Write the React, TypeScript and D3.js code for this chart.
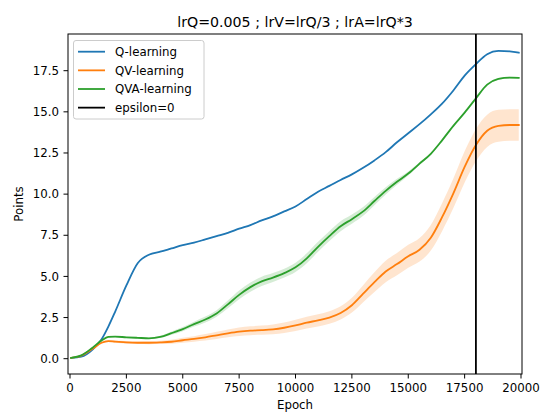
import React from "react";
import * as d3 from "d3";

// Training epochs at which the averaged scores were sampled
const epochs = [
  50, 500, 1000, 1400, 1700, 2000, 2500, 3000, 3500, 4000, 4500, 5000, 5500, 6000,
  6500, 7000, 7500, 8000, 8500, 9000, 9500, 10000, 10500, 11000, 11500, 12000,
  12500, 13000, 13500, 14000, 14500, 15000, 15500, 16000, 16500, 17000, 17500,
  18000, 18500, 19000, 19500, 19900,
];

// Mean points per method
const qMean = [
  0.05, 0.12, 0.55, 1.18, 1.95, 2.85, 4.45, 5.8, 6.32, 6.5, 6.7, 6.9, 7.05, 7.25,
  7.45, 7.65, 7.9, 8.12, 8.4, 8.65, 8.95, 9.25, 9.7, 10.15, 10.5, 10.86, 11.2,
  11.6, 12.05, 12.55, 13.15, 13.7, 14.25, 14.85, 15.5, 16.3, 17.2, 17.9, 18.5,
  18.7, 18.68, 18.6,
];
const qvMean = [
  0.05, 0.18, 0.6, 0.97, 1.07, 1.04, 0.99, 0.97, 0.97, 0.99, 1.03, 1.12, 1.2, 1.3,
  1.42, 1.54, 1.64, 1.7, 1.73, 1.78, 1.88, 2.02, 2.19, 2.33, 2.5, 2.78, 3.25, 3.95,
  4.65, 5.3, 5.75, 6.22, 6.62, 7.35, 8.6, 10.05, 11.65, 12.98, 13.85, 14.15, 14.2,
  14.2,
];
const qvaMean = [
  0.05, 0.2, 0.67, 1.1, 1.32, 1.34, 1.3, 1.27, 1.24, 1.32, 1.55, 1.8, 2.1, 2.38,
  2.75, 3.3, 3.88, 4.35, 4.7, 4.93, 5.2, 5.55, 6.1, 6.8, 7.45, 8.05, 8.48, 8.95,
  9.58, 10.2, 10.75, 11.25, 11.85, 12.45, 13.27, 14.15, 14.95, 15.82, 16.65, 17.0,
  17.08, 17.07,
];

// Spread around each mean (shaded band = mean ± spread)
const qSpread = [
  0.02, 0.02, 0.02, 0.03, 0.03, 0.03, 0.03, 0.03, 0.03, 0.03, 0.03, 0.03, 0.03, 0.03,
  0.03, 0.03, 0.03, 0.03, 0.03, 0.03, 0.03, 0.03, 0.03, 0.03, 0.03, 0.03, 0.03, 0.03,
  0.03, 0.03, 0.03, 0.03, 0.03, 0.03, 0.03, 0.03, 0.03, 0.03, 0.03, 0.03, 0.03, 0.03,
];
const qvSpread = [
  0.02, 0.03, 0.04, 0.05, 0.06, 0.07, 0.08, 0.08, 0.09, 0.1, 0.12, 0.15, 0.17, 0.2,
  0.22, 0.24, 0.26, 0.27, 0.28, 0.3, 0.32, 0.34, 0.36, 0.37, 0.38, 0.4, 0.45, 0.52,
  0.6, 0.65, 0.68, 0.7, 0.72, 0.78, 0.85, 0.9, 0.95, 0.98, 0.98, 0.97, 0.96, 0.95,
];
const qvaSpread = [
  0.01, 0.02, 0.03, 0.04, 0.04, 0.04, 0.04, 0.04, 0.05, 0.07, 0.1, 0.13, 0.15, 0.18,
  0.2, 0.24, 0.27, 0.28, 0.28, 0.27, 0.27, 0.28, 0.3, 0.3, 0.3, 0.3, 0.28, 0.27,
  0.25, 0.22, 0.18, 0.12, 0.08, 0.06, 0.05, 0.05, 0.05, 0.05, 0.05, 0.05, 0.05, 0.05,
];

const seriesNames = ["Q-learning", "QV-learning", "QVA-learning"];
const seriesColors = ["#1f77b4", "#ff7f0e", "#2ca02c"];
const epsilonZeroEpoch = 18000;

const xTicks = [0, 2500, 5000, 7500, 10000, 12500, 15000, 17500, 20000];
const yTicks = [0, 2.5, 5, 7.5, 10, 12.5, 15, 17.5];

const W = 544;
const H = 412;
const left = 68;
const right = 522;
const top = 34;
const bottom = 374;
const font = "'DejaVu Sans', sans-serif";

export default function App() {
  const x = d3.scaleLinear().domain([-89, 20044]).range([left, right]);
  const y = d3.scaleLinear().domain([-0.93, 19.73]).range([bottom, top]);

  const means = [qMean, qvMean, qvaMean];
  const spreads = [qSpread, qvSpread, qvaSpread];

  const line = d3
    .line<number>()
    .x((_, i) => x(epochs[i]))
    .y((d) => y(d))
    .curve(d3.curveMonotoneX);

  const bandFor = (m: number[], s: number[]) =>
    d3
      .area<number>()
      .x((_, i) => x(epochs[i]))
      .y0((_, i) => y(m[i] - s[i]))
      .y1((_, i) => y(m[i] + s[i]))
      .curve(d3.curveMonotoneX)(m) as string;

  const legendItems = [
    ...seriesNames.map((n, i) => ({ name: n, color: seriesColors[i] })),
    { name: "epsilon=0", color: "#000000" },
  ];

  return (
    <svg
      width={W}
      height={H}
      style={{ position: "absolute", left: 0, top: 0, background: "#fff" }}
      fontFamily={font}
    >
      <rect x={0} y={0} width={W} height={H} fill="#fff" />
      <defs>
        <clipPath id="plot-area">
          <rect x={left} y={top} width={right - left} height={bottom - top} />
        </clipPath>
      </defs>

      <g clipPath="url(#plot-area)">
        {means.map((m, i) => (
          <path key={"band" + i} d={bandFor(m, spreads[i])} fill={seriesColors[i]} fillOpacity={0.2} stroke="none" />
        ))}
        {means.map((m, i) => (
          <path
            key={"line" + i}
            d={line(m) as string}
            fill="none"
            stroke={seriesColors[i]}
            strokeWidth={1.8}
            strokeLinejoin="round"
            strokeLinecap="square"
          />
        ))}
        <line
          x1={x(epsilonZeroEpoch)}
          x2={x(epsilonZeroEpoch)}
          y1={top}
          y2={bottom}
          stroke="#000"
          strokeWidth={1.8}
        />
      </g>

      {/* frame */}
      <rect x={left} y={top} width={right - left} height={bottom - top} fill="none" stroke="#000" strokeWidth={1} />

      {/* x axis */}
      {xTicks.map((t) => (
        <g key={"xt" + t}>
          <line x1={x(t)} x2={x(t)} y1={bottom} y2={bottom + 4.5} stroke="#000" strokeWidth={1} />
          <text x={x(t)} y={391.5} textAnchor="middle" fontSize={11.8} fill="#000">
            {t}
          </text>
        </g>
      ))}
      <text x={(left + right) / 2} y={408.5} textAnchor="middle" fontSize={11.8} fill="#000">
        Epoch
      </text>

      {/* y axis */}
      {yTicks.map((t) => (
        <g key={"yt" + t}>
          <line x1={left - 4.5} x2={left} y1={y(t)} y2={y(t)} stroke="#000" strokeWidth={1} />
          <text x={59} y={y(t) + 4.2} textAnchor="end" fontSize={11.8} fill="#000">
            {t.toFixed(1)}
          </text>
        </g>
      ))}
      <text
        transform={`translate(22.5, ${(top + bottom) / 2}) rotate(-90)`}
        textAnchor="middle"
        fontSize={11.8}
        fill="#000"
      >
        Points
      </text>

      {/* title */}
      <text x={(left + right) / 2} y={27} textAnchor="middle" fontSize={14.2} fill="#000">
        lrQ=0.005 ; lrV=lrQ/3 ; lrA=lrQ*3
      </text>

      {/* legend */}
      <g>
        <rect x={73.5} y={40.5} width={130.5} height={78.5} rx={2.5} fill="#fff" fillOpacity={0.8} stroke="#cccccc" strokeWidth={1} />
        {legendItems.map((it, i) => {
          const ly = 51.7 + i * 18.65;
          return (
            <g key={"lg" + i}>
              <line x1={78} x2={105} y1={ly} y2={ly} stroke={it.color} strokeWidth={1.8} />
              <text x={115} y={ly + 4.2} fontSize={11.8} fill="#000">
                {it.name}
              </text>
            </g>
          );
        })}
      </g>
    </svg>
  );
}
